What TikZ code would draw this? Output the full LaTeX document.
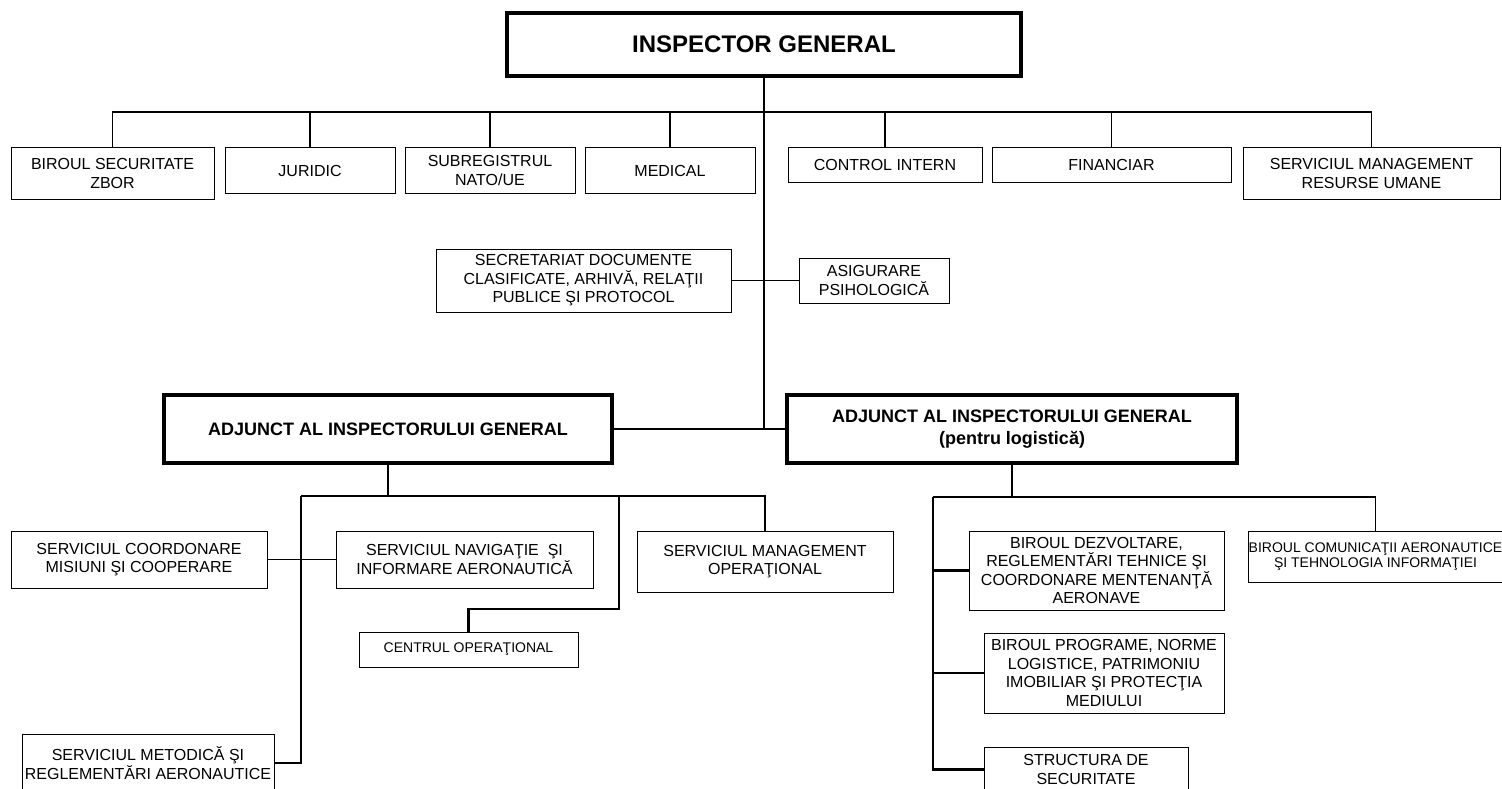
\documentclass[tikz,border=0pt]{standalone}
\usepackage{fontspec}
\setmainfont{Liberation Sans}
\begin{document}
\begin{tikzpicture}[x=1pt,y=-1pt,
    box/.style={draw,line width=1pt,align=center,inner sep=0pt,font=\fontsize{16}{18.5}\selectfont},
    smallbox/.style={box,font=\fontsize{14}{14.5}\selectfont},
    headbox/.style={draw,line width=3.5pt,align=center,inner sep=0pt,font=\bfseries\fontsize{18}{22}\selectfont},
    link/.style={line width=1.5pt},
    thicklink/.style={line width=2.5pt}]
    \fill[white] (0,0) rectangle (1502,789);
    \useasboundingbox (0,0) rectangle (1502,789);

    \node[headbox,font=\bfseries\fontsize{24}{28}\selectfont,minimum width=514,minimum height=63] (ig) at (764,44.5) {INSPECTOR GENERAL};

    \node[box,minimum width=203,minimum height=51] (bsz) at (112.5,173.5) {BIROUL SECURITATE\\ZBOR};
    \node[box,minimum width=170,minimum height=45] (jur) at (310,170.5) {JURIDIC};
    \node[box,minimum width=170,minimum height=45] (sub) at (490,170.5) {SUBREGISTRUL\\NATO/UE};
    \node[box,minimum width=170,minimum height=45] (med) at (670,170.5) {MEDICAL};
    \node[box,minimum width=194,minimum height=34] (ci) at (885,165) {CONTROL INTERN};
    \node[box,minimum width=239,minimum height=34] (fin) at (1111.5,165) {FINANCIAR};
    \node[box,minimum width=257,minimum height=51] (rum) at (1371.5,173.5) {SERVICIUL MANAGEMENT\\RESURSE UMANE};

    \node[box,minimum width=295,minimum height=63] (sec) at (583.5,280.5) {SECRETARIAT DOCUMENTE\\CLASIFICATE, ARHIVĂ, RELAŢII\\PUBLICE ŞI PROTOCOL};
    \node[box,minimum width=150,minimum height=45] (asp) at (874,280.5) {ASIGURARE\\PSIHOLOGICĂ};

    \node[headbox,minimum width=448,minimum height=68] (adj1) at (388,429) {ADJUNCT AL INSPECTORULUI GENERAL};
    \node[headbox,minimum width=450,minimum height=68] (adj2) at (1012,429) {ADJUNCT AL INSPECTORULUI GENERAL\\(pentru logistică)};

    \node[box,minimum width=256,minimum height=57] (scm) at (139,559.5) {SERVICIUL COORDONARE\\MISIUNI ŞI COOPERARE};
    \node[box,minimum width=257,minimum height=57] (snav) at (464.5,559.5) {SERVICIUL NAVIGAŢIE \ ŞI\\INFORMARE AERONAUTICĂ};
    \node[box,minimum width=256,minimum height=61] (smo) at (765,561.5) {SERVICIUL MANAGEMENT\\OPERAŢIONAL};
    \node[smallbox,minimum width=219,minimum height=35] (cop) at (468.5,649.5) {CENTRUL OPERAŢIONAL};
    \node[box,minimum width=252,minimum height=58] (smra) at (148,763) {SERVICIUL METODICĂ ŞI\\REGLEMENTĂRI AERONAUTICE};

    \node[box,minimum width=255,minimum height=79] (bdrt) at (1096.5,570.5) {BIROUL DEZVOLTARE,\\REGLEMENTĂRI TEHNICE ŞI\\COORDONARE MENTENANŢĂ\\AERONAVE};
    \node[box,minimum width=240,minimum height=80] (bpn) at (1104,673) {BIROUL PROGRAME, NORME\\LOGISTICE, PATRIMONIU\\IMOBILIAR ŞI PROTECŢIA\\MEDIULUI};
    \node[box,minimum width=204,minimum height=45] (ss) at (1086,769.5) {STRUCTURA DE\\SECURITATE};
    \node[smallbox,minimum width=255,minimum height=51] (bca) at (1375.5,556.5) {BIROUL COMUNICAŢII AERONAUTICE\\ŞI TEHNOLOGIA INFORMAŢIEI};

    \coordinate (bus) at (0,112);
    \coordinate (j1) at (301,496);
    \coordinate (j2) at (619,496);
    \coordinate (j3) at (619,609);
    \coordinate (j4) at (933,497);

    \draw[link] (bsz.north) |- (bus -| rum.north) -- (rum.north);
    \foreach \n in {jur,sub,med,ci,fin}
        \draw[link] (\n.north) -- (\n.north |- bus);
    \draw[line width=2pt] (ig.south) -- (ig.south |- adj2.west);
    \draw[link] (sec.east) -- (asp.west);
    \draw[link] (adj1.east) -- (adj2.west);

    \draw[link] (adj1.south) -- (adj1.south |- j1);
    \draw[link] (j1) -| (smo.north);
    \draw[thicklink] (j1) |- (smra.east);
    \draw[link] (scm.east) -- (snav.west);
    \draw[thicklink] (j2) -- (j3) -| (cop.north);

    \draw[link] (adj2.south) -- (adj2.south |- j4);
    \draw[link] (j4) -| (bca.north);
    \draw[thicklink] (j4) |- (ss.west);
    \draw[thicklink] (j4 |- bdrt.west) -- (bdrt.west);
    \draw[thicklink] (j4 |- bpn.west) -- (bpn.west);
\end{tikzpicture}
\end{document}
